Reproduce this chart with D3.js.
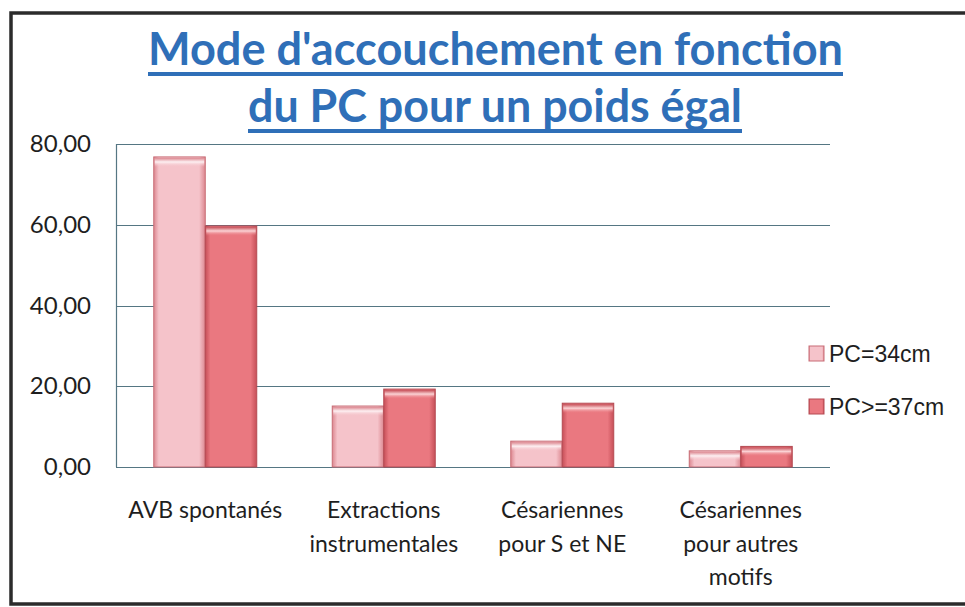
<!DOCTYPE html>
<html>
<head>
<meta charset="utf-8">
<script src="https://cdn.jsdelivr.net/npm/d3@7"></script>
<style>
  body { margin: 0; background: #fff; }
  svg { display: block; }
</style>
</head>
<body>
<div id="chart"></div>
<script>
var categories = [["AVB spontanés"], ["Extractions", "instrumentales"], ["Césariennes", "pour S et NE"], ["Césariennes", "pour autres", "motifs"]];
var seriesNames = ["PC=34cm", "PC>=37cm"];
var pc34 = [76.8, 15.1, 6.4, 4.0];
var pc37 = [59.7, 19.3, 15.8, 5.1];
var yTicks = [0, 20, 40, 60, 80];
var titleLines = ["Mode d'accouchement en fonction", "du PC pour un poids égal"];

var W = 965, H = 607;
var plot = {left: 116, right: 830, top: 144, bottom: 467};

var svg = d3.select("#chart").append("svg")
    .attr("width", W).attr("height", H);

var defs = svg.append("defs");
function bevel(id, light, mid, dark) {
    var g = defs.append("linearGradient").attr("id", id)
        .attr("x1", 0).attr("x2", 1).attr("y1", 0).attr("y2", 0);
    g.append("stop").attr("offset", "0%").attr("stop-color", dark);
    g.append("stop").attr("offset", "10%").attr("stop-color", mid);
    g.append("stop").attr("offset", "88%").attr("stop-color", mid);
    g.append("stop").attr("offset", "100%").attr("stop-color", dark);
    var t = defs.append("linearGradient").attr("id", id + "-top")
        .attr("x1", 0).attr("x2", 0).attr("y1", 0).attr("y2", 1);
    t.append("stop").attr("offset", "0%").attr("stop-color", dark);
    t.append("stop").attr("offset", "45%").attr("stop-color", light);
    t.append("stop").attr("offset", "100%").attr("stop-color", mid).attr("stop-opacity", 0);
}
bevel("g34", "#fdf0f2", "#f5c3ca", "#dc8790");
bevel("g37", "#fbd3d5", "#ea7880", "#c64f58");
var fills = ["g34", "g37"];
var strokes = ["#c86d76", "#b54b53"];

// frame
svg.append("rect").attr("x", 11).attr("y", 13).attr("width", W + 20).attr("height", 591)
    .attr("fill", "none").attr("stroke", "#2b2b2b").attr("stroke-width", 3.5);

// title
var title = svg.append("g");
titleLines.forEach(function(t, i) {
    var base = 65 + i * 57;
    var x0 = i == 0 ? 148 : 248, x1 = i == 0 ? 843 : 742;
    title.append("text")
        .attr("x", x0).attr("y", base)
        .attr("textLength", x1 - x0).attr("lengthAdjust", "spacingAndGlyphs")
        .style("font-family", "Lato, 'Open Sans', sans-serif")
        .style("font-weight", "bold").style("font-size", "45px")
        .attr("fill", "#2f6fb8")
        .text(t);
    title.append("rect").attr("x", x0).attr("y", base + 7)
        .attr("width", x1 - x0).attr("height", 4).attr("fill", "#2f6fb8");
});

var x = d3.scaleBand().domain(d3.range(categories.length))
    .range([plot.left, plot.right]).paddingInner(0.423).paddingOuter(0.2115);
var xs = d3.scaleBand().domain([0, 1]).range([0, x.bandwidth()]);
var y = d3.scaleLinear().domain([0, 80]).range([plot.bottom, plot.top]);

// grid
svg.append("g").selectAll("line").data(yTicks).enter().append("line")
    .attr("x1", plot.left).attr("x2", plot.right)
    .attr("y1", function(d) { return Math.round(y(d)) + 0.5; })
    .attr("y2", function(d) { return Math.round(y(d)) + 0.5; })
    .attr("stroke", "#557683").attr("stroke-width", 1.2);
svg.append("line").attr("x1", plot.left + 0.5).attr("x2", plot.left + 0.5)
    .attr("y1", y(80)).attr("y2", y(0))
    .attr("stroke", "#557683").attr("stroke-width", 1.2);

// y labels
svg.append("g").selectAll("text").data(yTicks).enter().append("text")
    .attr("x", 91).attr("y", function(d) { return y(d) + 8; })
    .attr("text-anchor", "end")
    .style("font-family", "Lato, sans-serif").style("font-size", "24px")
    .attr("fill", "#1e1e1e")
    .text(function(d) { return d3.format(".2f")(d).replace(".", ","); });

// bars
var series = [pc34, pc37];
series.forEach(function(vals, s) {
    var g = svg.append("g");
    var bars = g.selectAll("g").data(vals).enter().append("g")
        .attr("transform", function(d, i) { return "translate(" + (x(i) + xs(s)) + ",0)"; });
    bars.append("rect")
        .attr("x", 0).attr("y", function(d) { return y(d); })
        .attr("width", xs.bandwidth()).attr("height", function(d) { return y(0) - y(d); })
        .attr("fill", "url(#" + fills[s] + ")")
        .attr("stroke", strokes[s]).attr("stroke-width", 1);
    bars.append("rect")
        .attr("x", 1).attr("y", function(d) { return y(d) + 1; })
        .attr("width", xs.bandwidth() - 2).attr("height", 9)
        .attr("fill", "url(#" + fills[s] + "-top)");
});

// x labels
var xl = svg.append("g").selectAll("text").data(categories).enter().append("text")
    .attr("text-anchor", "middle")
    .style("font-family", "Lato, sans-serif").style("font-size", "23px")
    .attr("fill", "#1e1e1e");
xl.each(function(lines, i) {
    var t = d3.select(this);
    lines.forEach(function(l, k) {
        t.append("tspan").attr("x", x(i) + x.bandwidth() / 2)
            .attr("y", 518 + k * 33.5).text(l);
    });
});

// legend
var leg = svg.append("g").attr("transform", "translate(809,346)");
seriesNames.forEach(function(n, i) {
    var row = leg.append("g").attr("transform", "translate(0," + (i * 53) + ")");
    row.append("rect").attr("x", 0).attr("y", 0).attr("width", 15).attr("height", 15)
        .attr("fill", "url(#" + fills[i] + ")").attr("stroke", strokes[i]);
    row.append("text").attr("x", 20).attr("y", 16)
        .style("font-family", "'Liberation Sans', Arial, sans-serif").style("font-size", "23px")
        .attr("fill", "#1e1e1e").text(n);
});
</script>
</body>
</html>
